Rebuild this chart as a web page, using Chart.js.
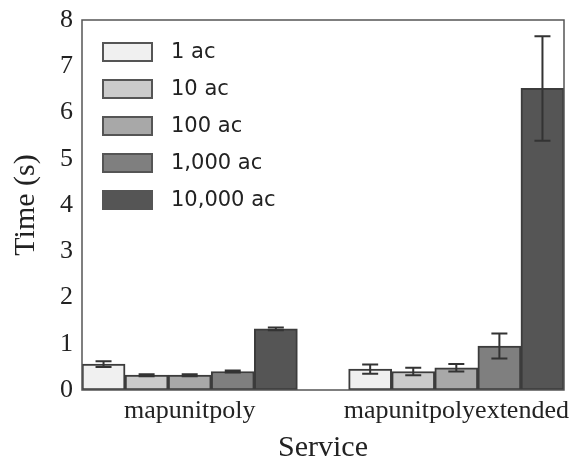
<!DOCTYPE html>
<html>
<head>
<meta charset="utf-8">
<script src="https://cdn.jsdelivr.net/npm/chart.js@4/dist/chart.umd.min.js"></script>
<style>
    html, body { margin: 0; padding: 0; background: #ffffff; }
    #wrap { width: 572px; height: 468px; }
</style>
</head>
<body>
<div id="wrap"><canvas id="timeChart" width="572" height="468"></canvas></div>
<script>
// Services (groups) and where each group starts on the x axis (in bar widths)
const services = ['mapunitpoly', 'mapunitpolyextended'];
const groupStart = [0, 6.19];

// Area sizes (one series per size)
const sizes = ['1 ac', '10 ac', '100 ac', '1,000 ac', '10,000 ac'];
const fills = ['#f0f0f0', '#cbcbcb', '#a8a8a8', '#7f7f7f', '#555555'];

// Mean time (s) per size, one value per service
const time1 = [0.56, 0.45];
const time10 = [0.32, 0.40];
const time100 = [0.32, 0.48];
const time1000 = [0.40, 0.95];
const time10000 = [1.32, 6.52];

// Error bar half-lengths (s)
const err1 = [0.06, 0.10];
const err10 = [0.02, 0.08];
const err100 = [0.02, 0.08];
const err1000 = [0.02, 0.27];
const err10000 = [0.03, 1.13];

const yTicks = [0, 1, 2, 3, 4, 5, 6, 7, 8];

const times = [time1, time10, time100, time1000, time10000];
const errs = [err1, err10, err100, err1000, err10000];

// centre of each group = start + middle bar
const groupCentre = groupStart.map(s => s + (sizes.length - 1) / 2);

const datasets = sizes.map((label, i) => ({
    label: label,
    data: services.map((_, g) => ({ x: groupStart[g] + i, y: times[i][g] })),
    errors: errs[i],
    backgroundColor: fills[i],
    borderColor: '#3c3c3c',
    borderWidth: 2,
    borderSkipped: false
}));

// error bars drawn on top of each bar
const errorBars = {
    id: 'errorBars',
    afterDatasetsDraw(chart) {
        const ctx = chart.ctx;
        const y = chart.scales.y;
        ctx.save();
        ctx.strokeStyle = '#333333';
        ctx.lineWidth = 2;
        chart.data.datasets.forEach((ds, i) => {
            chart.getDatasetMeta(i).data.forEach((bar, j) => {
                const v = ds.data[j].y;
                const e = ds.errors[j];
                const top = y.getPixelForValue(v + e);
                const bot = y.getPixelForValue(v - e);
                ctx.beginPath();
                ctx.moveTo(bar.x, top);
                ctx.lineTo(bar.x, bot);
                ctx.moveTo(bar.x - 8, top);
                ctx.lineTo(bar.x + 8, top);
                ctx.moveTo(bar.x - 8, bot);
                ctx.lineTo(bar.x + 8, bot);
                ctx.stroke();
            });
        });
        ctx.restore();
    }
};

// frame round the plot + legend in the top-left corner
const frameAndLegend = {
    id: 'frameAndLegend',
    afterDraw(chart) {
        const ctx = chart.ctx;
        const a = chart.chartArea;
        ctx.save();
        ctx.strokeStyle = '#555555';
        ctx.lineWidth = 1.5;
        ctx.strokeRect(a.left, a.top, a.right - a.left, a.bottom - a.top);

        ctx.font = '21px "DejaVu Sans"';
        ctx.textBaseline = 'middle';
        chart.data.datasets.forEach((ds, i) => {
            const cy = a.top + 32 + i * 37;
            ctx.fillStyle = ds.backgroundColor;
            ctx.fillRect(103, cy - 9, 49, 18);
            ctx.strokeStyle = '#555555';
            ctx.lineWidth = 2;
            ctx.strokeRect(103, cy - 9, 49, 18);
            ctx.fillStyle = '#222222';
            ctx.fillText(ds.label, 171, cy + 1);
        });
        ctx.restore();
    }
};

new Chart(document.getElementById('timeChart').getContext('2d'), {
    type: 'bar',
    data: { datasets: datasets },
    plugins: [errorBars, frameAndLegend],
    options: {
        responsive: false,
        animation: false,
        grouped: false,
        categoryPercentage: 1,
        barPercentage: 1,
        layout: { padding: { top: 20, right: 8, left: 0, bottom: 0 } },
        scales: {
            x: {
                type: 'linear',
                min: -0.5,
                max: 10.69,
                offset: false,
                afterBuildTicks: (scale) => { scale.ticks = groupCentre.map(v => ({ value: v })); },
                afterFit: (scale) => {
                    scale.height = 78;
                    // let the long label hang past the plot instead of shrinking it
                    scale.paddingLeft = 0;
                    scale.paddingRight = 0;
                },
                grid: { display: false, drawTicks: false },
                border: { display: false },
                ticks: {
                    autoSkip: false,
                    maxRotation: 0,
                    padding: 6,
                    color: '#222222',
                    font: { family: '"Liberation Serif"', size: 26 },
                    callback: (value, index) => services[index]
                },
                title: {
                    display: true,
                    text: 'Service',
                    color: '#222222',
                    font: { family: '"Liberation Serif"', size: 30 },
                    padding: { top: 0, bottom: 2 }
                }
            },
            y: {
                min: 0,
                max: 8,
                afterBuildTicks: (scale) => { scale.ticks = yTicks.map(v => ({ value: v })); },
                afterFit: (scale) => {
                    scale.width = 82;
                    scale.paddingTop = 0;
                    scale.paddingBottom = 0;
                },
                grid: { display: false, drawTicks: false },
                border: { display: false },
                ticks: {
                    padding: 9,
                    color: '#222222',
                    font: { family: '"Liberation Serif"', size: 26 }
                },
                title: {
                    display: true,
                    text: 'Time (s)',
                    color: '#222222',
                    font: { family: '"Liberation Serif"', size: 30 },
                    padding: { top: 8, bottom: 0 }
                }
            }
        },
        plugins: {
            legend: { display: false },
            tooltip: { enabled: false }
        }
    }
});
</script>
</body>
</html>
